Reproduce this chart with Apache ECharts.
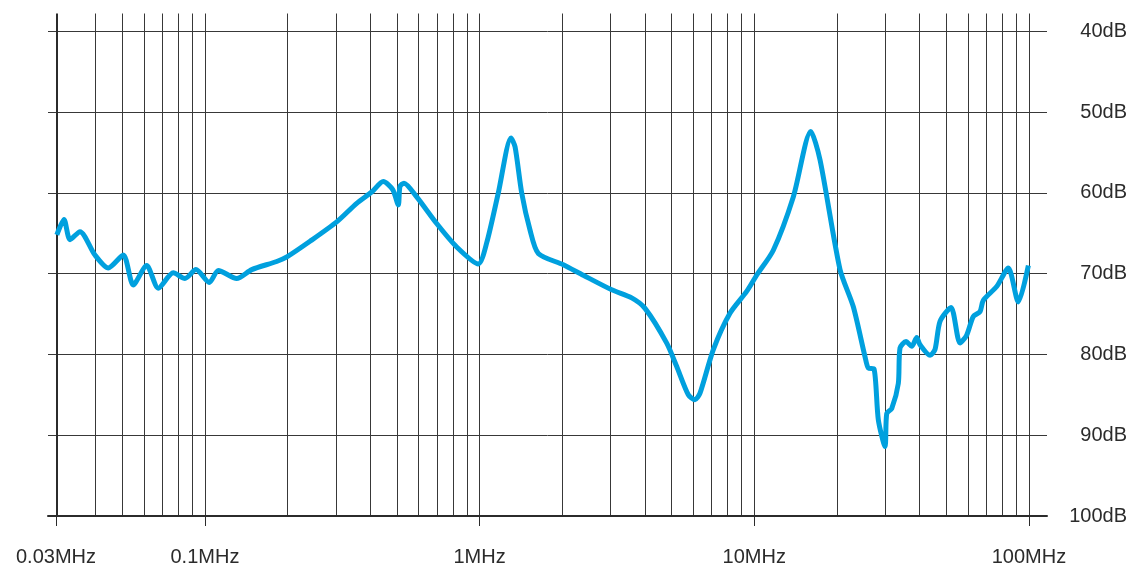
<!DOCTYPE html>
<html>
<head>
<meta charset="utf-8">
<title>Insertion loss vs frequency</title>
<script src="https://cdn.jsdelivr.net/npm/echarts@6/dist/echarts.min.js"></script>
<style>
  html, body { margin: 0; padding: 0; background: #ffffff; }
  #chart { width: 1131px; height: 567px; }
</style>
</head>
<body>
<div id="chart"></div>
<script>
// Measured response: frequency in MHz and level in dB
const freqMHz = [
  0.0289, 0.03068, 0.03228, 0.03508, 0.03978, 0.04446, 0.05044, 0.05485, 0.06138, 0.06764,
  0.07669, 0.08459, 0.09279, 0.1037, 0.1119, 0.1305, 0.1481, 0.1825, 0.1995, 0.2413,
  0.3018, 0.3569, 0.4047, 0.4460, 0.4828, 0.5058, 0.5131, 0.5306, 0.5902, 0.6978,
  0.8253, 0.9891, 1.061, 1.170, 1.301, 1.346, 1.423, 1.526, 1.636, 2.017,
  2.385, 3.027, 3.579, 4.002, 4.800, 5.220, 5.752, 6.084, 6.345, 7.094,
  8.155, 9.383, 10.20, 11.73, 13.87, 16.06, 17.35, 20.52, 22.94, 25.31,
  26.02, 27.29, 28.29, 29.92, 30.36, 31.65, 33.45, 33.93, 35.68, 37.43,
  39.03, 40.13, 43.64, 45.50, 47.45, 52.03, 56.11, 59.35, 62.72, 66.34,
  68.20, 76.30, 84.10, 91.46, 99.5
];
const levelDB = [
  65.2, 63.3, 65.8, 64.8, 67.7, 69.3, 67.7, 71.4, 69.0, 71.8,
  69.9, 70.6, 69.5, 71.1, 69.6, 70.6, 69.5, 68.5, 67.9, 66.0,
  63.6, 61.3, 59.9, 58.6, 59.6, 61.5, 59.2, 58.8, 60.5, 63.8,
  66.7, 68.8, 66.2, 60.0, 53.2, 54.3, 60.0, 64.6, 67.5, 68.9,
  70.2, 72.0, 73.0, 74.3, 78.6, 81.5, 85.0, 85.6, 84.8, 79.4,
  74.9, 72.2, 70.2, 67.1, 60.5, 52.4, 55.9, 69.5, 74.1, 80.3,
  81.7, 81.8, 88.1, 91.4, 87.3, 86.7, 83.6, 79.2, 78.4, 79.0,
  77.9, 78.8, 80.1, 79.4, 75.9, 74.2, 78.6, 77.6, 75.3, 74.7,
  73.3, 71.6, 69.3, 73.5, 69.0
];

// Frequency axis: labelled decades and the grid lines of each decade
const axisStartMHz = 0.0287;
const majorTickMHz = [axisStartMHz, 0.1, 1, 10, 100];
const majorTickText = ['0.03MHz', '0.1MHz', '1MHz', '10MHz', '100MHz'];
const gridLineMHz = [
  0.04, 0.05, 0.06, 0.07, 0.08, 0.09,
  0.1, 0.2, 0.3, 0.4, 0.5, 0.6, 0.7, 0.8, 0.9,
  1, 2, 3, 4, 5, 6, 7, 8, 9,
  10, 20, 30, 40, 50, 60, 70, 80, 90,
  100
];
// Level axis (drawn downwards)
const levelTicks = [40, 50, 60, 70, 80, 90, 100];

const lg = v => Math.log10(v);
const xMin = -1.5713, xMax = 2.0657;
const textColor = '#2b2b2b';
const gridColor = '#383838';
const labelFont = 'Liberation Sans, Arial, sans-serif';

const chart = echarts.init(document.getElementById('chart'), null, { renderer: 'canvas' });

const majorPos = majorTickMHz.map(lg);
function majorLabel(v) {
  let best = 0;
  for (let i = 1; i < majorPos.length; i++) {
    if (Math.abs(majorPos[i] - v) < Math.abs(majorPos[best] - v)) best = i;
  }
  return majorTickText[best];
}

chart.setOption({
  animation: false,
  backgroundColor: '#ffffff',
  grid: { left: 48, right: 84, top: 13.5, bottom: 51, containLabel: false },
  xAxis: [
    {
      type: 'value', min: xMin, max: xMax, position: 'bottom',
      axisLine: { show: true, lineStyle: { color: textColor, width: 2 } },
      axisTick: { show: false, customValues: gridLineMHz.map(lg) },
      axisLabel: { show: false },
      splitLine: { show: true, lineStyle: { color: gridColor, width: 1 } }
    },
    {
      type: 'value', min: xMin, max: xMax, position: 'bottom',
      axisLine: { show: false },
      axisTick: { show: true, customValues: majorPos, length: 10, lineStyle: { color: textColor, width: 1 } },
      axisLabel: {
        show: true, customValues: majorPos, margin: 31,
        color: textColor, fontSize: 20, fontFamily: labelFont,
        formatter: majorLabel
      },
      splitLine: { show: false }
    }
  ],
  yAxis: {
    type: 'value', inverse: true, min: 37.8, max: 100, position: 'right',
    axisLine: { show: false },
    axisTick: { show: false, customValues: levelTicks },
    axisLabel: {
      show: true, customValues: levelTicks, margin: 80, align: 'right',
      color: textColor, fontSize: 20, fontFamily: labelFont,
      formatter: v => v + 'dB'
    },
    splitLine: { show: true, lineStyle: { color: gridColor, width: 1 } }
  },
  series: [
    {
      type: 'line',
      xAxisIndex: 0, yAxisIndex: 0,
      data: freqMHz.map((f, i) => [lg(f), levelDB[i]]),
      showSymbol: false,
      smooth: 0.25,
      lineStyle: { color: '#00a0de', width: 5 },
      silent: true,
      z: 5,
      markLine: {
        silent: true, symbol: 'none', label: { show: false },
        lineStyle: { color: textColor, width: 2, type: 'solid' },
        data: [{ xAxis: lg(axisStartMHz) }],
        z: 3
      }
    }
  ]
});
</script>
</body>
</html>
